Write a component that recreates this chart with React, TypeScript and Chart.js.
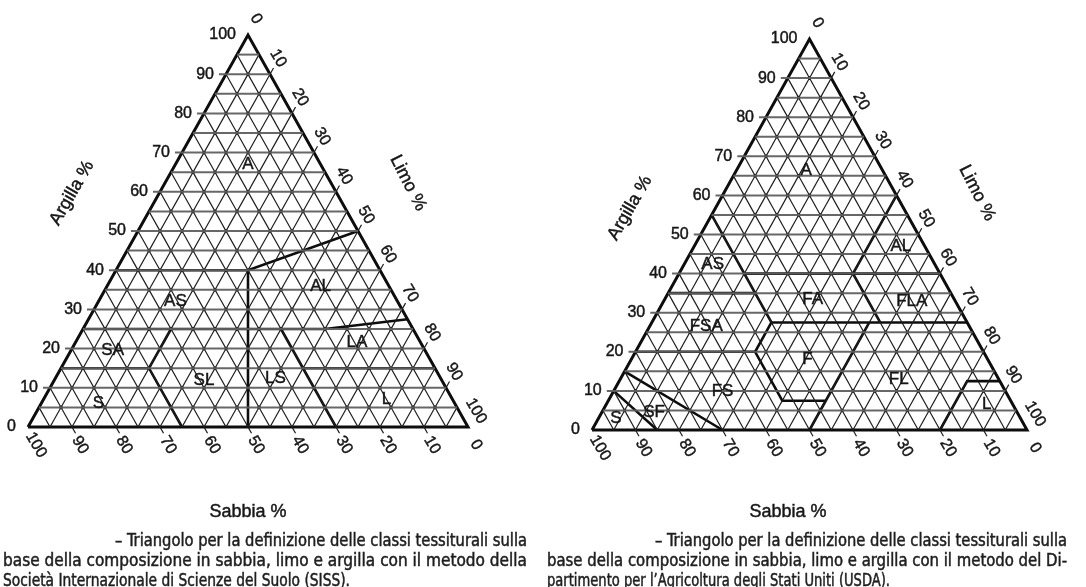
import React, { useEffect, useRef } from "react";
import { Chart, registerables } from "chart.js";
Chart.register(...registerables);

// ---------- data ----------
const TICK_VALUES = [0, 10, 20, 30, 40, 50, 60, 70, 80, 90, 100];
const GRID_VALUES = [5, 10, 15, 20, 25, 30, 35, 40, 45, 50, 55, 60, 65, 70, 75, 80, 85, 90, 95];

// class boundaries as polylines of [sand, silt, clay] (%)
const SISS_BOUNDARIES: number[][][] = [
  [[60, 0, 40], [30, 30, 40], [0, 50, 50]],
  [[30, 30, 40], [50, 50, 0]],
  [[75, 0, 25], [20, 55, 25], [0, 72.5, 27.5]],
  [[30, 45, 25], [30, 70, 0]],
  [[85, 0, 15], [65, 20, 15], [65, 35, 0]],
  [[65, 20, 15], [55, 20, 25]],
  [[30, 55, 15], [0, 85, 15]],
];
const SISS_LABELS = ["A", "AS", "AL", "SA", "SL", "LS", "LA", "L", "S"];
const SISS_LABEL_SILT = [16.5, 17.5, 48.5, 9.5, 34, 50, 64, 78, 13];
const SISS_LABEL_CLAY = [67, 32, 36, 19.5, 12, 12.5, 21.5, 7, 6];

const USDA_BOUNDARIES: number[][][] = [
  [[65, 0, 35], [45, 20, 35]],
  [[45, 0, 55], [45, 27.5, 27.5]],
  [[45, 15, 40], [0, 60, 40]],
  [[20, 40, 40], [0, 40, 60]],
  [[20, 52.5, 27.5], [20, 40, 40]],
  [[45, 27.5, 27.5], [0, 72.5, 27.5]],
  [[80, 0, 20], [52.5, 27.5, 20]],
  [[45, 27.5, 27.5], [52.5, 27.5, 20], [52.5, 40, 7.5], [42.5, 50, 7.5]],
  [[22.5, 50, 27.5], [50, 50, 0]],
  [[20, 80, 0], [7.5, 80, 12.5], [0, 87.5, 12.5]],
  [[90, 0, 10], [85, 15, 0]],
  [[85, 0, 15], [70, 30, 0]],
];
const USDA_LABELS = ["A", "AS", "AL", "FA", "FLA", "FSA", "F", "FL", "FS", "L", "S", "SF"];
const USDA_LABEL_SILT = [16, 6.5, 47.5, 34, 57, 13, 40.5, 64, 25, 87.5, 4, 12];
const USDA_LABEL_CLAY = [66.5, 42.5, 47, 33.5, 33, 26.5, 18, 13, 10, 6.5, 3, 4.5];

const AXIS_TITLES = ["Argilla %", "Limo %", "Sabbia %"];

const CAPTION_SISS = [
  "– Triangolo per la definizione delle classi tessiturali sulla",
  "base della composizione in sabbia, limo e argilla con il metodo della",
  "Società Internazionale di Scienze del Suolo (SISS).",
];
const CAPTION_USDA = [
  "– Triangolo per la definizione delle classi tessiturali sulla",
  "base della composizione in sabbia, limo e argilla con il metodo del Di-",
  "partimento per l’Agricoltura degli Stati Uniti (USDA).",
];

// ---------- helpers ----------
const xy = (silt: number, clay: number) => ({ x: silt + clay / 2, y: clay });

function lineDs(points: { x: number; y: number }[], color: string, width: number) {
  return {
    data: points,
    showLine: true,
    borderColor: color,
    borderWidth: width,
    pointRadius: 0,
    pointHoverRadius: 0,
    fill: false,
    tension: 0,
    clip: false as any,
    borderCapStyle: "butt",
    borderJoinStyle: "miter",
  };
}

function buildDatasets(boundaries: number[][][]) {
  const ds: any[] = [];
  const EXT = 1.6;
  for (const v of GRID_VALUES) {
    const e = v % 10 === 0 ? EXT : 0;
    ds.push(lineDs([xy(-e, v), xy(100 - v, v)], "rgba(95,95,95,0.95)", 2));
  }
  for (const v of GRID_VALUES) {
    const e = v % 10 === 0 ? EXT : 0;
    ds.push(lineDs([xy(v, 0), xy(v, 100 - v + e)], "#1c1c1c", 1.2));
    ds.push(lineDs([xy(100 - v + e, -e), xy(0, 100 - v)], "#1c1c1c", 1.2));
  }
  const dots: { x: number; y: number }[] = [];
  for (const c of GRID_VALUES) {
    for (const s of GRID_VALUES) {
      if (100 - s - c >= 5) dots.push(xy(s, c));
    }
  }
  ds.push({
    data: dots,
    showLine: false,
    pointRadius: 1.8,
    pointBackgroundColor: "#111",
    pointBorderWidth: 0,
    clip: false,
  });
  for (const b of boundaries) {
    ds.push(lineDs(b.map((p) => xy(p[1], p[2])), "#0d0d0d", 2.6));
  }
  ds.push(lineDs([xy(0, 0), xy(100, 0), xy(0, 100), xy(0, 0)], "#0d0d0d", 3));
  return ds;
}

function rotText(ctx: CanvasRenderingContext2D, t: string, x: number, y: number, a: number) {
  ctx.save();
  ctx.translate(x, y);
  ctx.rotate(a);
  ctx.strokeText(t, 0, 0);
  ctx.fillText(t, 0, 0);
  ctx.restore();
}

function drawLine(ctx: CanvasRenderingContext2D, text: string, x0: number, x1: number, y: number, justify: boolean) {
  const words = text.split(" ");
  const spaceW = ctx.measureText(" ").width;
  const widths = words.map((w) => ctx.measureText(w).width);
  const total = widths.reduce((a, b) => a + b, 0);
  const natural = total + spaceW * (words.length - 1);
  const target = x1 - x0;
  ctx.textAlign = "left";
  if (natural > target || !justify) {
    const s = natural > target ? target / natural : 1;
    ctx.save();
    ctx.translate(x0, y);
    ctx.scale(s, 1);
    ctx.strokeText(text, 0, 0);
    ctx.fillText(text, 0, 0);
    ctx.restore();
    return;
  }
  const gap = (target - total) / (words.length - 1);
  let x = x0;
  words.forEach((w, i) => {
    ctx.strokeText(w, x, y);
    ctx.fillText(w, x, y);
    x += widths[i] + gap;
  });
}

type Layout = {
  left: number;
  padding: { left: number; right: number; top: number; bottom: number };
  argilla: [number, number];
  limo: [number, number];
  sabbia: [number, number];
  capLines: [number, number, number, boolean][];
};

const W = 543;
const H = 587;
const SANS = "'Liberation Sans', Arial, sans-serif";

function Ternary(props: {
  boundaries: number[][][];
  labels: string[];
  lsilt: number[];
  lclay: number[];
  caption: string[];
  layout: Layout;
}) {
  const ref = useRef<HTMLCanvasElement>(null);
  useEffect(() => {
    const { boundaries, labels, lsilt, lclay, caption, layout } = props;
    const plugin = {
      id: "ternaryText",
      afterDatasetsDraw(chart: any) {
        const ctx: CanvasRenderingContext2D = chart.ctx;
        const xs = chart.scales.x;
        const ys = chart.scales.y;
        const P = (silt: number, clay: number) => [
          xs.getPixelForValue(silt + clay / 2),
          ys.getPixelForValue(clay),
        ];
        ctx.save();
        ctx.fillStyle = "#161616";
        ctx.strokeStyle = "#161616";
        ctx.lineWidth = 0.45;
        ctx.font = "16px " + SANS;
        ctx.textAlign = "right";
        ctx.textBaseline = "middle";
        for (const c of TICK_VALUES) {
          const [x, y] = P(0, c);
          ctx.strokeText(String(c), x - 12, y);
          ctx.fillText(String(c), x - 12, y);
        }
        ctx.textAlign = "center";
        for (const s of TICK_VALUES) {
          const [x, y] = P(s, 100 - s);
          rotText(ctx, String(s), x + 8, y - 16, Math.PI / 3);
        }
        for (const a of TICK_VALUES) {
          const [x, y] = P(100 - a, 0);
          rotText(ctx, String(a), x + 8, y + 18, Math.PI / 3);
        }
        // class labels
        ctx.font = "17px " + SANS;
        labels.forEach((l, i) => {
          const [x, y] = P(lsilt[i], lclay[i]);
          ctx.strokeText(l, x, y);
          ctx.fillText(l, x, y);
        });
        // axis titles
        ctx.font = "18px " + SANS;
        rotText(ctx, AXIS_TITLES[0], layout.argilla[0], layout.argilla[1], -Math.PI / 3);
        rotText(ctx, AXIS_TITLES[1], layout.limo[0], layout.limo[1], (63 * Math.PI) / 180);
        ctx.strokeText(AXIS_TITLES[2], layout.sabbia[0], layout.sabbia[1]);
        ctx.fillText(AXIS_TITLES[2], layout.sabbia[0], layout.sabbia[1]);
        // caption
        ctx.font = "17.5px 'Liberation Sans Narrow', 'DejaVu Sans Condensed', Lato, sans-serif";
        ctx.textBaseline = "alphabetic";
        ctx.fillStyle = "#1e1e1e";
        ctx.strokeStyle = "#1e1e1e";
        ctx.lineWidth = 0.5;
        caption.forEach((t, i) => {
          const [x0, x1, y, j] = layout.capLines[i];
          drawLine(ctx, t, x0, x1, y, j);
        });
        ctx.restore();
      },
    };
    const chart = new Chart(ref.current as HTMLCanvasElement, {
      type: "scatter",
      data: { datasets: buildDatasets(boundaries) },
      options: {
        animation: false,
        responsive: false,
        devicePixelRatio: 1,
        layout: { padding: layout.padding },
        events: [],
        scales: {
          x: { type: "linear", min: 0, max: 100, display: false },
          y: { type: "linear", min: 0, max: 100, display: false },
        },
        plugins: { legend: { display: false }, tooltip: { enabled: false }, title: { display: false } },
      } as any,
      plugins: [plugin],
    });
    return () => chart.destroy();
  }, []);
  return (
    <canvas
      ref={ref}
      width={W}
      height={H}
      style={{ position: "absolute", left: props.layout.left, top: 0, width: W, height: H }}
    />
  );
}

const LEFT_LAYOUT: Layout = {
  left: 0,
  padding: { left: 28, right: W - 468, top: 35, bottom: H - 427 },
  argilla: [72, 193],
  limo: [408, 183],
  sabbia: [248, 512],
  capLines: [
    [115, 527, 546, true],
    [3, 527, 566, true],
    [3, 350, 586, false],
  ],
};

const RIGHT_LAYOUT: Layout = {
  left: 543,
  padding: { left: 49, right: W - 484, top: 39, bottom: H - 430 },
  argilla: [87, 208],
  limo: [434, 193],
  sabbia: [245, 512],
  capLines: [
    [112, 524, 546, true],
    [4, 524, 566, true],
    [4, 347, 586, false],
  ],
};

export default function App() {
  return (
    <div
      style={{
        position: "absolute",
        left: 0,
        top: 0,
        width: 1086,
        height: 587,
        background: "#fff",
        overflow: "hidden",
      }}
    >
      <Ternary
        boundaries={SISS_BOUNDARIES}
        labels={SISS_LABELS}
        lsilt={SISS_LABEL_SILT}
        lclay={SISS_LABEL_CLAY}
        caption={CAPTION_SISS}
        layout={LEFT_LAYOUT}
      />
      <Ternary
        boundaries={USDA_BOUNDARIES}
        labels={USDA_LABELS}
        lsilt={USDA_LABEL_SILT}
        lclay={USDA_LABEL_CLAY}
        caption={CAPTION_USDA}
        layout={RIGHT_LAYOUT}
      />
    </div>
  );
}
